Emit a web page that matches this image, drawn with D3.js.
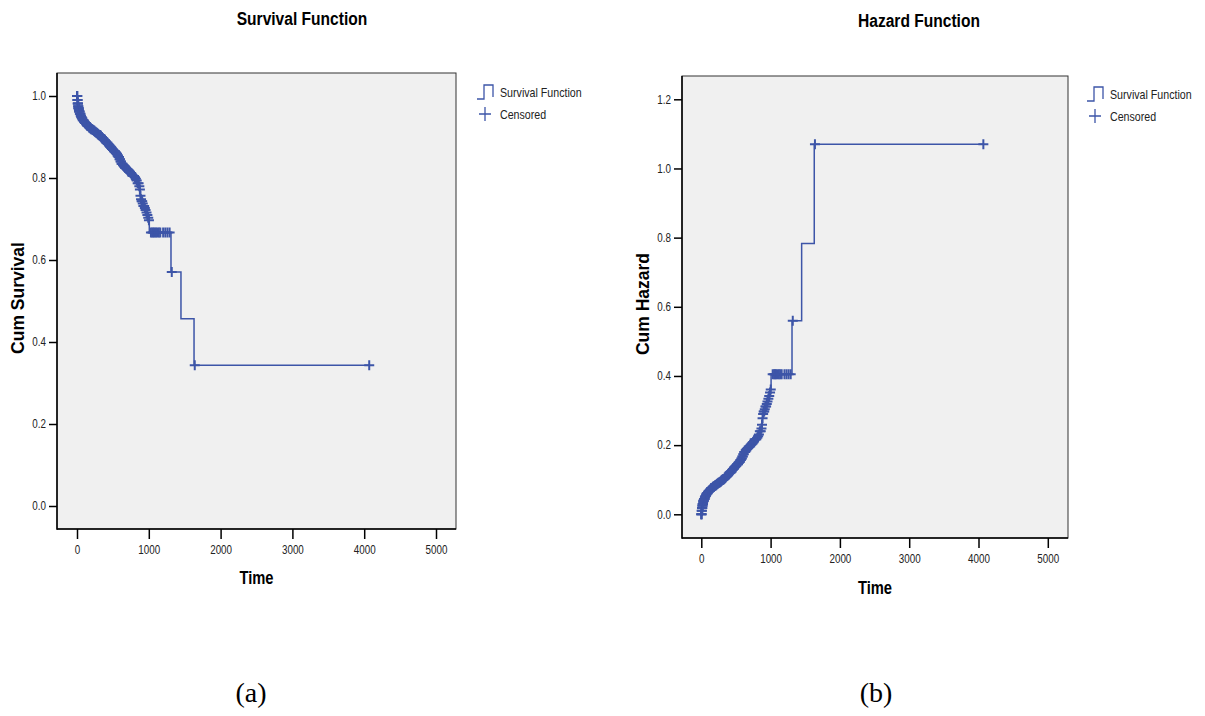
<!DOCTYPE html>
<html>
<head>
<meta charset="utf-8">
<script src="https://cdn.jsdelivr.net/npm/d3@7"></script>
<style>
  body { margin: 0; background: #fff; }
  svg { display: block; }
</style>
</head>
<body>
<svg id="chart" width="1205" height="716"></svg>
<script>
// ---- data ----
const xTicks = [0, 1000, 2000, 3000, 4000, 5000];
const survTicks = [0.0, 0.2, 0.4, 0.6, 0.8, 1.0];
const hazTicks = [0.0, 0.2, 0.4, 0.6, 0.8, 1.0, 1.2];

// event (step) times
const eventTimes = [0, 5, 10, 15, 20, 25, 30, 40, 50, 60, 70, 80, 95, 110, 125, 140, 155, 170, 185, 200, 215, 230, 245, 260, 275, 290, 305, 320, 335, 350, 365, 380, 395, 410, 425, 440, 455, 470, 485, 500, 515, 530, 545, 560, 575, 590, 605, 620, 635, 650, 665, 680, 695, 710, 725, 740, 755, 770, 785, 800, 815, 830, 845, 860, 872, 880, 890, 900, 914, 925, 940, 950, 961, 975, 985, 993, 1007, 1309, 1448, 1630];
// cumulative survival (panel a)
const survValues = [1.0, 0.99, 0.982, 0.975, 0.97, 0.966, 0.962, 0.957, 0.952, 0.948, 0.945, 0.941, 0.937, 0.934, 0.931, 0.928, 0.926, 0.923, 0.921, 0.919, 0.917, 0.915, 0.913, 0.911, 0.909, 0.907, 0.905, 0.903, 0.900, 0.897, 0.894, 0.892, 0.889, 0.886, 0.883, 0.880, 0.877, 0.874, 0.871, 0.868, 0.865, 0.862, 0.859, 0.855, 0.851, 0.846, 0.840, 0.835, 0.831, 0.828, 0.825, 0.823, 0.821, 0.818, 0.815, 0.812, 0.809, 0.806, 0.805, 0.802, 0.798, 0.794, 0.787, 0.780, 0.772, 0.757, 0.748, 0.743, 0.738, 0.732, 0.727, 0.722, 0.716, 0.710, 0.703, 0.697, 0.667, 0.571, 0.457, 0.343];
// cumulative hazard (panel b)
const hazValues = [0.0, 0.010, 0.018, 0.025, 0.030, 0.035, 0.039, 0.044, 0.049, 0.053, 0.057, 0.061, 0.065, 0.068, 0.072, 0.075, 0.077, 0.080, 0.082, 0.084, 0.087, 0.089, 0.091, 0.093, 0.095, 0.098, 0.100, 0.102, 0.105, 0.109, 0.112, 0.114, 0.118, 0.121, 0.124, 0.128, 0.131, 0.135, 0.138, 0.141, 0.145, 0.149, 0.152, 0.157, 0.161, 0.167, 0.174, 0.180, 0.185, 0.189, 0.192, 0.195, 0.197, 0.201, 0.205, 0.208, 0.212, 0.216, 0.217, 0.221, 0.226, 0.231, 0.240, 0.248, 0.259, 0.278, 0.290, 0.297, 0.304, 0.312, 0.319, 0.326, 0.334, 0.342, 0.352, 0.361, 0.405, 0.560, 0.783, 1.070];
const lastTime = 4070;

// censored observation times
const censorTimes = [0, 2, 4, 6, 8, 10, 12, 14, 16, 18, 20, 22, 24, 27, 30, 33, 36, 40, 44, 48, 52, 56, 60, 65, 70, 75, 80, 86, 92, 98, 104, 110, 116, 122, 128, 134, 140, 146, 152, 158, 164, 170, 176, 182, 188, 194, 200, 207, 214, 221, 228, 235, 242, 249, 256, 263, 270, 277, 284, 291, 298, 305, 312, 319, 326, 333, 340, 347, 354, 361, 368, 375, 382, 389, 396, 403, 410, 417, 424, 431, 438, 445, 452, 459, 466, 473, 480, 487, 494, 501, 508, 515, 522, 529, 536, 543, 550, 557, 564, 571, 578, 585, 592, 599, 606, 613, 620, 627, 634, 641, 648, 655, 662, 669, 676, 683, 690, 698, 706, 714, 722, 730, 738, 746, 754, 762, 770, 778, 786, 794,
  808, 820, 832, 845, 858, 868, 876, 884, 892, 900, 908, 916, 925, 935, 945, 955, 968, 980, 992, 1002,
  1030, 1050, 1065, 1080, 1100, 1120, 1140, 1160, 1200, 1230, 1260, 1290, 1320, 1640, 4070];

// ---- drawing ----
const svg = d3.select("#chart");
const blue = "#3d55a8";
const font = '"Liberation Sans", Arial, sans-serif';
const NARROW = 0.82;

// narrow text helper: Liberation Sans squeezed horizontally (Arial Narrow look)
function narrowText(parent, x, y, str, size, opts = {}) {
  return parent.append("text")
    .attr("transform", `translate(${x},${y}) scale(${NARROW},1)`)
    .attr("text-anchor", opts.anchor || "start")
    .attr("dy", opts.dy || null)
    .attr("font-family", font).attr("font-size", size)
    .attr("font-weight", opts.bold ? "bold" : null)
    .attr("fill", opts.fill || "#000").text(str);
}

function squeezeTicks(axisG) {
  axisG.selectAll("text").each(function () {
    const t = d3.select(this);
    const tx = +t.attr("x") || 0, ty = +t.attr("y") || 0;
    t.attr("x", 0).attr("y", 0).attr("transform", `translate(${tx},${ty}) scale(${NARROW},1)`);
  });
}

function panel(cfg) {
  const g = svg.append("g");
  const x = d3.scaleLinear().domain([0, 5000]).range(cfg.xr);
  const y = d3.scaleLinear().domain([cfg.yTicks[0], cfg.yTicks[cfg.yTicks.length - 1]]).range(cfg.yr);

  g.append("rect").attr("x", cfg.box[0]).attr("y", cfg.box[1])
    .attr("width", cfg.box[2] - cfg.box[0]).attr("height", cfg.box[3] - cfg.box[1])
    .attr("fill", "#f0f0f0").attr("stroke", "#333").attr("stroke-width", 1);

  const yAxis = g.append("g").attr("transform", `translate(${cfg.box[0]},0)`)
    .call(d3.axisLeft(y).tickValues(cfg.yTicks).tickFormat(d3.format(".1f")).tickSize(8).tickPadding(3));
  const xAxis = g.append("g").attr("transform", `translate(0,${cfg.box[3]})`)
    .call(d3.axisBottom(x).tickValues(xTicks).tickFormat(d3.format("d")).tickSize(10).tickPadding(6));
  [yAxis, xAxis].forEach(a => {
    a.select(".domain").remove();
    a.selectAll("line").attr("stroke", "#000").attr("stroke-width", 1.5);
    a.selectAll("text").attr("font-family", font).attr("font-size", 12).attr("fill", "#222");
    squeezeTicks(a);
  });
  g.append("line").attr("x1", cfg.box[0]).attr("x2", cfg.box[0]).attr("y1", cfg.box[1]).attr("y2", cfg.box[3] + 0.75)
    .attr("stroke", "#000").attr("stroke-width", 1.5);
  g.append("line").attr("x1", cfg.box[0]).attr("x2", cfg.box[2]).attr("y1", cfg.box[3]).attr("y2", cfg.box[3])
    .attr("stroke", "#000").attr("stroke-width", 1.5);

  const pts = eventTimes.map((t, i) => [t, cfg.vals[i]]);
  pts.push([lastTime, cfg.vals[cfg.vals.length - 1]]);
  const line = d3.line().x(d => x(d[0])).y(d => y(d[1])).curve(d3.curveStepAfter);
  g.append("path").attr("d", line(pts)).attr("fill", "none").attr("stroke", blue).attr("stroke-width", 1.5);

  const stepAt = t => { let v = cfg.vals[0]; for (let i = 0; i < eventTimes.length; i++) if (eventTimes[i] <= t) v = cfg.vals[i]; return v; };
  g.selectAll("path.cen").data(censorTimes).join("path").attr("class", "cen")
    .attr("transform", t => `translate(${x(t)},${y(stepAt(t))})`)
    .attr("d", "M-5,0H5M0,-5V5").attr("stroke", blue).attr("stroke-width", 2).attr("fill", "none");

  // titles
  narrowText(g, cfg.title[0], cfg.title[1], cfg.titleText, 19, { anchor: "middle", bold: true });
  narrowText(g, (cfg.box[0] + cfg.box[2]) / 2, cfg.xlabY, "Time", 18, { anchor: "middle", bold: true });
  g.append("text").attr("transform", `translate(${cfg.ylabX},${cfg.ylabY}) rotate(-90)`)
    .attr("text-anchor", "middle").attr("font-family", font)
    .attr("font-weight", "bold").attr("font-size", 17.5).text(cfg.ylab);

  // legend
  const lx = cfg.leg[0], ly = cfg.leg[1];
  g.append("path").attr("d", `M${lx},${ly + 14}H${lx + 7}V${ly}H${lx + 16}V${ly + 12}`)
    .attr("fill", "none").attr("stroke", blue).attr("stroke-width", 1.3);
  narrowText(g, lx + 23, ly + 7, "Survival Function", 13, { dy: "0.35em", fill: "#222" });
  g.append("path").attr("d", `M${lx + 2},${ly + 29}H${lx + 14}M${lx + 8},${ly + 22}V${ly + 36}`)
    .attr("fill", "none").attr("stroke", blue).attr("stroke-width", 1.3);
  narrowText(g, lx + 23, ly + 29, "Censored", 13, { dy: "0.35em", fill: "#222" });

  svg.append("text").attr("x", cfg.cap[0]).attr("y", cfg.cap[1]).attr("text-anchor", "middle")
    .attr("dy", "0.35em").attr("font-family", '"Liberation Serif", "Times New Roman", serif').attr("font-size", 28).text(cfg.capText);
}

panel({
  box: [57, 73, 456, 529], xr: [77, 436], yr: [506, 96], yTicks: survTicks, vals: survValues,
  title: [302, 25], titleText: "Survival Function", xlabY: 584, ylabX: 23.5, ylabY: 298, ylab: "Cum Survival",
  leg: [477, 85], cap: [251, 692], capText: "(a)"
});
panel({
  box: [682, 76, 1068, 538], xr: [701.3, 1047.8], yr: [514.3, 99.3], yTicks: hazTicks, vals: hazValues,
  title: [919, 27], titleText: "Hazard Function", xlabY: 594, ylabX: 649, ylabY: 304, ylab: "Cum Hazard",
  leg: [1087, 87], cap: [876, 692], capText: "(b)"
});
</script>
</body>
</html>
